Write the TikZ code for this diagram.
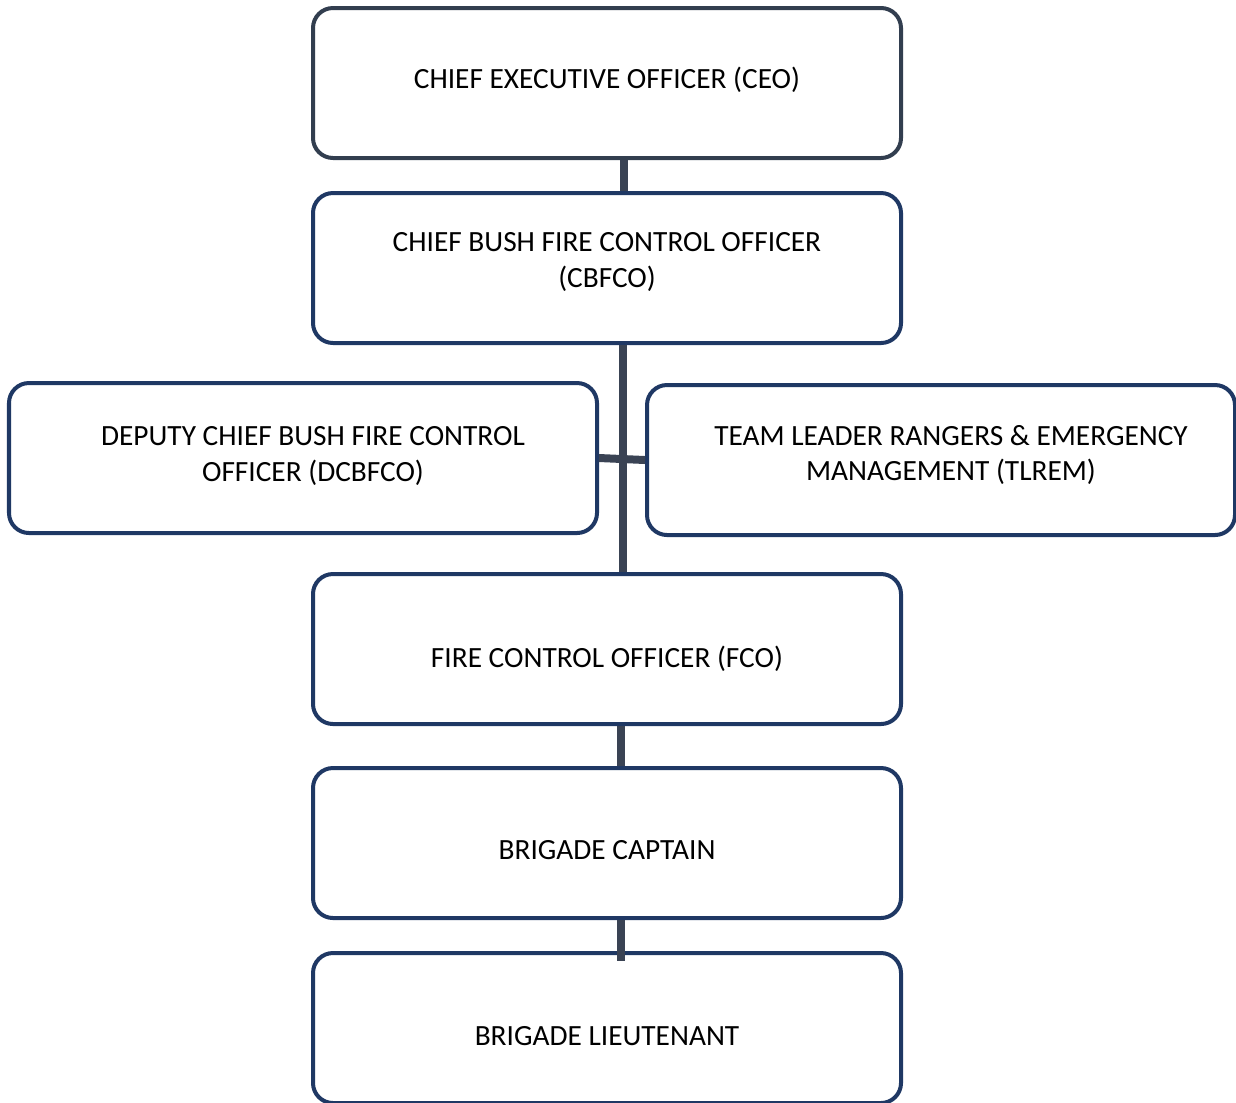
\documentclass[tikz,border=0pt]{standalone}
\usepackage{fontspec}
\setmainfont{Carlito}
\usepackage{tikz}
\pgfdeclarelayer{edgelayer}
\pgfdeclarelayer{nodelayer}
\pgfsetlayers{main,nodelayer,edgelayer}
\definecolor{ceoline}{HTML}{323E4F}
\definecolor{boxline}{HTML}{1F3864}
\definecolor{linkline}{HTML}{3A4354}
\tikzstyle{none}=[inner sep=0pt,align=center,font=\fontsize{16.7}{20.4}\selectfont]
\tikzstyle{post}=[rectangle,rounded corners=0.4cm,draw=boxline,line width=0.08cm,fill=white,minimum width=11.76cm,minimum height=3cm]
\tikzstyle{link}=[draw=linkline,line width=0.16cm]

\begin{document}
\begin{tikzpicture}
	\useasboundingbox (0,0) rectangle (24.72,-22.04);
	\begin{pgfonlayer}{nodelayer}
		\node [style=post, draw=ceoline] (0) at (12.14, -1.66) {};
		\node [style=post] (1) at (12.14, -5.36) {};
		\node [style=post] (2) at (6.06, -9.16) {};
		\node [style=post] (3) at (18.82, -9.2) {};
		\node [style=post] (4) at (12.14, -12.98) {};
		\node [style=post] (5) at (12.14, -16.86) {};
		\node [style=post] (6) at (12.14, -20.56) {};
		\node [style=none] (7) at (12.14, -1.6) {CHIEF EXECUTIVE OFFICER (CEO)};
		\node [style=none] (8) at (12.14, -5.24) {CHIEF BUSH FIRE CONTROL OFFICER\\(CBFCO)};
		\node [style=none] (9) at (6.26, -9.12) {DEPUTY CHIEF BUSH FIRE CONTROL\\OFFICER (DCBFCO)};
		\node [style=none] (10) at (19.02, -9.1) {TEAM LEADER RANGERS \& EMERGENCY\\MANAGEMENT (TLREM)};
		\node [style=none] (11) at (12.14, -13.18) {FIRE CONTROL OFFICER (FCO)};
		\node [style=none] (12) at (12.14, -17) {BRIGADE CAPTAIN};
		\node [style=none] (13) at (12.14, -20.72) {BRIGADE LIEUTENANT};
	\end{pgfonlayer}
	\begin{pgfonlayer}{edgelayer}
		\draw [style=link] ([xshift=0.34cm]0.south) to ([xshift=0.34cm]1.north);
		\draw [style=link] ([xshift=0.32cm]1.south) to ([xshift=0.32cm]4.north);
		\draw [style=link] (2.east) to (3.west);
		\draw [style=link] ([xshift=0.28cm]4.south) to ([xshift=0.28cm]5.north);
		\draw [style=link] ([xshift=0.28cm]5.south) to ([xshift=0.28cm,yshift=-0.2cm]6.north);
	\end{pgfonlayer}
\end{tikzpicture}
\end{document}
